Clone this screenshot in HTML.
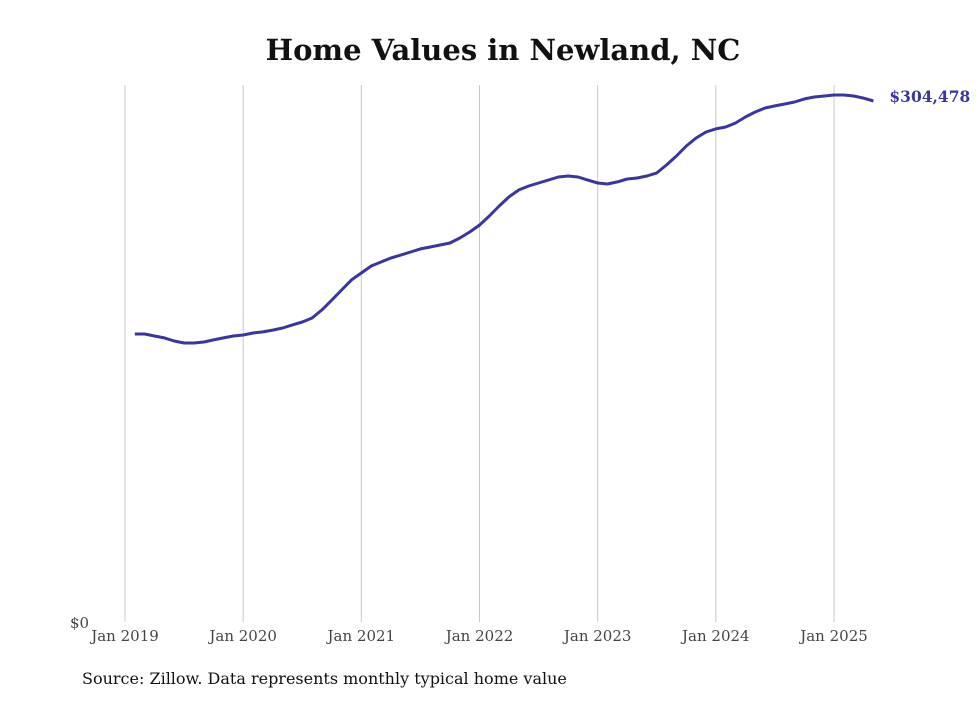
<!DOCTYPE html>
<html><head><meta charset="utf-8"><style>
body{margin:0;background:#fff;}
svg text{font-family:"DejaVu Serif","Liberation Serif",serif;}
</style></head><body>
<svg width="980" height="699" xmlns="http://www.w3.org/2000/svg">
<text x="503" y="60" text-anchor="middle" font-size="29" font-weight="bold" fill="#111">Home Values in Newland, NC</text>
<g id="grid"></g>
<g id="xt"></g>
<text x="70" y="628" font-size="15" fill="#444">$0</text>
<path id="line" fill="none" stroke="#3a35a0" stroke-width="3" stroke-linejoin="round"/>
<text id="endlbl" font-size="15.5" font-weight="bold" fill="#3a35a0"></text>
<text x="82" y="684" font-size="16" fill="#111">Source: Zillow. Data represents monthly typical home value</text>
</svg>
<script>
const startMonthIndex = 1; // months after Jan 2019
const values = [167.8,167.8,166.6,165.5,163.7,162.5,162.5,163.1,164.3,165.5,166.6,167.2,168.4,169.0,170.1,171.3,173.1,174.8,177.2,181.9,187.7,193.6,199.5,203.6,207.7,210.0,212.4,214.1,215.9,217.7,218.8,220.0,221.2,224.1,227.6,231.7,237.0,242.9,248.2,252.3,254.6,256.4,258.1,259.9,260.5,259.9,258.1,256.4,255.8,257.0,258.7,259.3,260.5,262.3,267.0,272.2,278.1,282.8,286.3,288.1,289.2,291.6,295.1,298.0,300.4,301.6,302.7,303.9,305.7,306.8,307.4,308.0,308.0,307.4,306.2,304.478];
const tickLabels = ["Jan 2019","Jan 2020","Jan 2021","Jan 2022","Jan 2023","Jan 2024","Jan 2025"];
const lastLabel = "$304,478";
const x = m => 125 + m * (709/72);
const y = v => 620 - v * (519/304.478);
const ns = "http://www.w3.org/2000/svg";
const grid = document.getElementById('grid'), xt = document.getElementById('xt');
tickLabels.forEach((t,i)=>{
  const l=document.createElementNS(ns,'line');
  
  
  const xx=x(i*12);
  l.setAttribute('x1',xx);l.setAttribute('x2',xx);l.setAttribute('y1',85);l.setAttribute('y2',622);
  l.setAttribute('stroke','#c8c8c8');l.setAttribute('stroke-width','1');
  grid.appendChild(l);
  const tx=document.createElementNS(ns,'text');
  
  
  tx.setAttribute('x',xx);tx.setAttribute('y',641);tx.setAttribute('text-anchor','middle');
  tx.setAttribute('font-size','15');tx.setAttribute('fill','#444');tx.textContent=t;
  xt.appendChild(tx);
});
let d='';
values.forEach((v,i)=>{d+=(i?'L':'M')+x(startMonthIndex+i).toFixed(1)+','+y(v).toFixed(1);});
document.getElementById('line').setAttribute('d',d);
const el=document.getElementById('endlbl');
el.setAttribute('x',x(startMonthIndex+values.length-1)+16);
el.setAttribute('y',y(values[values.length-1])+1);
el.textContent=lastLabel;
</script>
</body></html>
